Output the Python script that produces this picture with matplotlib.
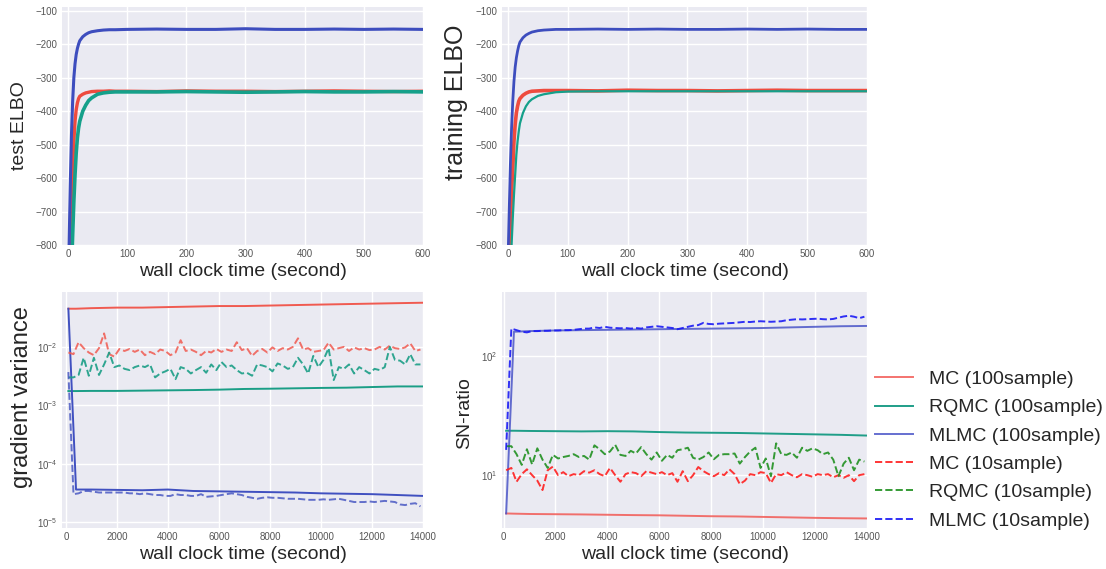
import matplotlib
matplotlib.use("Agg")
import matplotlib.pyplot as plt

# ---------------- data ----------------
# top panels: ELBO vs wall clock time (seconds)
elbo_time = [0, 2, 4, 6, 8, 10, 12, 14, 16, 18, 20, 25, 30, 35, 40, 50, 60, 70, 80,
             100, 150, 200, 250, 300, 350, 400, 450, 500, 550, 600]
test_mc = [-1150, -980, -820, -680, -570, -490, -430, -395, -375, -362, -355, -349, -345, -343, -341,
           -340, -340, -339, -340, -340, -341, -339, -340, -340, -341, -340, -339, -340, -341, -340]
test_rqmc = [-1300, -1150, -1000, -880, -770, -670, -590, -525, -480, -450, -430, -400, -382, -368, -360,
             -349, -345, -343, -342, -342, -342, -341, -342, -343, -342, -341, -342, -342, -341, -342]
test_mlmc = [-1000, -800, -620, -470, -370, -300, -258, -230, -212, -199, -189, -177, -170, -165, -162,
             -159, -157, -156, -156, -155, -154, -155, -155, -153, -155, -155, -154, -155, -154, -155]
train_mc = [-1000, -860, -740, -640, -570, -490, -440, -405, -385, -370, -362, -352, -346, -342, -340,
            -339, -338, -338, -338, -338, -339, -337, -338, -338, -339, -338, -337, -338, -338, -338]
train_rqmc = [-1150, -1000, -890, -800, -720, -650, -590, -530, -490, -460, -436, -405, -385, -372, -364,
              -354, -349, -346, -343, -341, -340, -340, -340, -340, -340, -340, -340, -340, -340, -340]
train_mlmc = [-850, -700, -560, -450, -370, -310, -268, -240, -220, -204, -193, -180, -172, -167, -163,
              -159, -157, -156, -155, -155, -154, -155, -154, -155, -155, -154, -155, -154, -155, -155]

# bottom panels: solid (100 sample) series
time_100 = [100, 400, 1000, 2000, 3000, 4000, 5000, 6000, 7000, 8000, 9000, 10000, 11000, 12000, 13000, 14000]
gv_mc100 = [0.045, 0.045, 0.046, 0.047, 0.047, 0.048, 0.049, 0.050, 0.050, 0.051, 0.052, 0.053, 0.054, 0.055, 0.056, 0.057]
gv_rqmc100 = [0.00175, 0.00175, 0.00176, 0.00176, 0.00178, 0.0018, 0.00182, 0.00185, 0.0019, 0.00192,
              0.00195, 0.00198, 0.0020, 0.00205, 0.0021, 0.0021]
gv_mlmc100 = [0.045, 3.6e-5, 3.6e-5, 3.55e-5, 3.5e-5, 3.6e-5, 3.4e-5, 3.35e-5, 3.3e-5, 3.25e-5,
              3.2e-5, 3.1e-5, 3.05e-5, 3.0e-5, 2.9e-5, 2.8e-5]
sn_mc100 = [4.77, 4.75, 4.72, 4.70, 4.68, 4.65, 4.62, 4.60, 4.56, 4.52, 4.50, 4.46, 4.42, 4.38, 4.35, 4.33]
sn_rqmc100 = [23.6, 23.6, 23.5, 23.4, 23.3, 23.4, 23.3, 23.0, 22.8, 22.7, 22.6, 22.4, 22.2, 22.0, 21.8, 21.5]
sn_mlmc100 = [4.77, 160, 162, 164, 165, 166, 167, 168, 169, 170, 171, 172, 174, 176, 178, 179]

# bottom panels: dashed (10 sample) series, every 200 s from 100 s
time_10 = list(range(100, 14000, 200))
gv_mc10 = [0.0080, 0.0075, 0.0120, 0.0095, 0.0080, 0.0072, 0.0095, 0.0170, 0.0075, 0.0068,
           0.0092, 0.0085, 0.0092, 0.0082, 0.0090, 0.0072, 0.0082, 0.0075, 0.0090, 0.0085,
           0.0072, 0.0080, 0.0130, 0.0085, 0.0090, 0.0082, 0.0072, 0.0085, 0.0080, 0.0092,
           0.0082, 0.0090, 0.0085, 0.0120, 0.0088, 0.0095, 0.0070, 0.0085, 0.0092, 0.0080,
           0.0098, 0.0085, 0.0095, 0.0090, 0.0100, 0.0140, 0.0090, 0.0095, 0.0082, 0.0085,
           0.0088, 0.0118, 0.0090, 0.0095, 0.0100, 0.0085, 0.0098, 0.0090, 0.0095, 0.0088,
           0.0090, 0.0100, 0.0090, 0.0105, 0.0095, 0.0092, 0.0098, 0.0115, 0.0085, 0.0090]
gv_rqmc10 = [0.0030, 0.0030, 0.0033, 0.0065, 0.0032, 0.0065, 0.0033, 0.0050, 0.0080, 0.0045,
             0.0048, 0.0042, 0.0040, 0.0045, 0.0048, 0.0045, 0.0050, 0.0030, 0.0035, 0.0038,
             0.0042, 0.0028, 0.0045, 0.0042, 0.0035, 0.0040, 0.0045, 0.0036, 0.0050, 0.0040,
             0.0055, 0.0045, 0.0048, 0.0040, 0.0035, 0.0036, 0.0032, 0.0050, 0.0048, 0.0045,
             0.0038, 0.0052, 0.0048, 0.0042, 0.0045, 0.0065, 0.0050, 0.0035, 0.0070, 0.0045,
             0.0060, 0.0095, 0.0027, 0.0045, 0.0042, 0.0050, 0.0035, 0.0045, 0.0040, 0.0035,
             0.0042, 0.0040, 0.0045, 0.0100, 0.0060, 0.0058, 0.0050, 0.0075, 0.0050, 0.0050]
gv_mlmc10 = [0.0037, 3.0e-5, 3.1e-5, 3.4e-5, 3.4e-5, 3.3e-5, 3.2e-5, 3.2e-5, 3.2e-5, 3.2e-5,
             3.2e-5, 3.2e-5, 3.1e-5, 3.1e-5, 3.0e-5, 3.1e-5, 3.0e-5, 2.9e-5, 2.9e-5, 2.8e-5,
             2.8e-5, 3.0e-5, 2.9e-5, 2.9e-5, 2.8e-5, 2.8e-5, 3.0e-5, 2.7e-5, 2.75e-5, 2.8e-5,
             2.9e-5, 3.0e-5, 3.1e-5, 3.0e-5, 2.9e-5, 2.7e-5, 2.6e-5, 2.5e-5, 2.6e-5, 2.65e-5,
             2.6e-5, 2.6e-5, 2.55e-5, 2.5e-5, 2.5e-5, 2.5e-5, 2.45e-5, 2.4e-5, 2.4e-5, 2.4e-5,
             2.45e-5, 2.4e-5, 2.45e-5, 2.5e-5, 2.4e-5, 2.3e-5, 2.2e-5, 2.2e-5, 2.2e-5, 2.25e-5,
             2.2e-5, 2.25e-5, 2.3e-5, 2.25e-5, 2.2e-5, 2.0e-5, 1.95e-5, 2.05e-5, 2.1e-5, 1.85e-5]
sn_mc10 = [11.0, 11.5, 8.8, 10.2, 11.2, 10.0, 9.0, 7.5, 11.0, 11.8,
           10.0, 10.6, 9.8, 10.2, 10.0, 10.8, 10.5, 11.0, 10.2, 9.8,
           11.5, 10.0, 8.8, 10.2, 10.6, 10.4, 9.8, 10.8, 10.5, 10.2,
           10.6, 10.0, 10.4, 8.8, 10.8, 8.9, 10.0, 11.7, 10.8, 10.2,
           9.8, 10.4, 10.0, 11.2, 10.2, 8.4, 9.0, 10.2, 10.0, 10.6,
           10.4, 8.6, 10.2, 10.0, 10.6, 10.0, 9.6, 10.2, 10.0, 9.7,
           10.2, 10.0, 10.2, 9.6, 10.0, 9.5, 10.0, 8.9, 10.0, 10.2]
sn_rqmc10 = [17.5, 17.5, 15.0, 12.2, 16.5, 12.3, 16.8, 13.5, 11.5, 14.8,
             13.8, 14.2, 14.5, 15.0, 14.2, 14.5, 13.5, 17.8, 16.5, 15.0,
             15.8, 18.0, 14.8, 14.5, 16.0, 15.2, 17.2, 15.0, 13.5, 15.5,
             13.2, 14.8, 14.0, 16.2, 16.5, 17.0, 14.0, 13.5, 14.2, 15.5,
             13.6, 14.8, 15.0, 15.0, 15.2, 12.5, 14.2, 15.8, 17.0, 11.5,
             13.8, 9.8, 18.5, 15.0, 14.8, 15.5, 14.0, 17.0, 16.0, 16.8,
             16.2, 15.0, 15.5, 13.5, 9.8, 12.5, 14.0, 11.0, 13.5, 13.0]
sn_mlmc10 = [16.3, 170, 165, 160, 158, 162, 162, 163, 163, 164,
             164, 165, 165, 166, 168, 170, 170, 174, 172, 176,
             173, 172, 171, 172, 170, 172, 170, 174, 176, 178,
             176, 174, 172, 168, 172, 176, 180, 182, 190, 186,
             185, 187, 188, 189, 190, 192, 194, 193, 195, 196,
             195, 194, 195, 196, 200, 202, 204, 203, 204, 205,
             206, 204, 203, 205, 210, 215, 218, 214, 208, 214]

labels = ["MC (100sample)", "RQMC (100sample)", "MLMC (100sample)",
          "MC (10sample)", "RQMC (10sample)", "MLMC (10sample)"]

# ---------------- style ----------------
plt.rcParams.update({
    "font.family": ["Liberation Sans", "DejaVu Sans"],
    "axes.facecolor": "#EAEAF2",
    "axes.edgecolor": "white",
    "axes.grid": True,
    "grid.color": "white",
    "grid.linewidth": 1.0,
    "axes.axisbelow": True,
    "xtick.labelsize": 7,
    "ytick.labelsize": 7,
    "xtick.color": "#555555",
    "ytick.color": "#555555",
    "xtick.major.size": 0,
    "ytick.major.size": 0,
    "xtick.minor.size": 0,
    "ytick.minor.size": 0,
    "text.color": "#262626",
    "axes.labelcolor": "#262626",
})

RED, TEAL, BLUE = "#EE4B3E", "#15A08A", "#3D4DBE"

W, H = 1106, 569
fig = plt.figure(figsize=(W / 100, H / 100), dpi=100)


def add_ax(l, t, r, b):
    return fig.add_axes([l / W, 1 - b / H, (r - l) / W, (b - t) / H])


ax_tl = add_ax(62, 7, 423, 245)
ax_tr = add_ax(502, 7, 867, 245)
ax_bl = add_ax(62, 292, 423, 528)
ax_br = add_ax(502, 292, 867, 528)

for ax in (ax_tl, ax_tr, ax_bl, ax_br):
    for s in ax.spines.values():
        s.set_visible(False)
    ax.tick_params(pad=3)

# top-left: test ELBO
ax_tl.plot(elbo_time, test_mc, color=RED, lw=2.4)
ax_tl.plot(elbo_time, test_rqmc, color=TEAL, lw=2.6)
ax_tl.plot(elbo_time, test_mlmc, color=BLUE, lw=2.2)
# top-right: training ELBO
ax_tr.plot(elbo_time, train_mc, color=RED, lw=2.6)
ax_tr.plot(elbo_time, train_rqmc, color=TEAL, lw=1.6)
ax_tr.plot(elbo_time, train_mlmc, color=BLUE, lw=2.0)

for ax in (ax_tl, ax_tr):
    ax.set_xlim(-10, 600)
    ax.set_ylim(-800, -88)
    ax.set_xticks([0, 100, 200, 300, 400, 500, 600])
    ax.set_yticks([-800, -700, -600, -500, -400, -300, -200, -100])

# bottom-left: gradient variance
ax_bl.plot(time_100, gv_mc100, color="#F05A50", lw=1.4)
ax_bl.plot(time_100, gv_rqmc100, color="#1A9E86", lw=1.4)
ax_bl.plot(time_100, gv_mlmc100, color="#4050C0", lw=1.4)
ax_bl.plot(time_10, gv_mc10, color="#F05A50", lw=1.4, ls="--", alpha=0.85)
ax_bl.plot(time_10, gv_rqmc10, color="#1A9E86", lw=1.4, ls="--", alpha=0.9)
ax_bl.plot(time_10, gv_mlmc10, color="#4050C0", lw=1.4, ls="--", alpha=0.8)
ax_bl.set_yscale("log")
ax_bl.set_xlim(-150, 14000)
ax_bl.set_ylim(7.9e-6, 0.087)

# bottom-right: SN ratio
l1, = ax_br.plot(time_100, sn_mc100, color="#F25A55", lw=1.4, alpha=0.85)
l2, = ax_br.plot(time_100, sn_rqmc100, color="#1F9E88", lw=1.4)
l3, = ax_br.plot(time_100, sn_mlmc100, color="#4A55C8", lw=1.4, alpha=0.85)
l4, = ax_br.plot(time_10, sn_mc10, color="#FF2020", lw=1.4, ls="--", alpha=0.9)
l5, = ax_br.plot(time_10, sn_rqmc10, color="#209020", lw=1.4, ls="--", alpha=0.9)
l6, = ax_br.plot(time_10, sn_mlmc10, color="#1A1AF5", lw=1.4, ls="--", alpha=0.9)
ax_br.set_yscale("log")
ax_br.set_xlim(-60, 14000)
ax_br.set_ylim(3.6, 345)

for ax in (ax_bl, ax_br):
    ax.set_xticks([0, 2000, 4000, 6000, 8000, 10000, 12000, 14000])
    ax.grid(False, which="minor")

# labels
xl = "wall clock time (second)"
for ax, y in ((ax_tl, -0.076), (ax_tr, -0.076), (ax_bl, -0.077), (ax_br, -0.077)):
    ax.set_xlabel(xl, fontsize=14)
    ax.xaxis.set_label_coords(0.5, y)

ax_tl.set_ylabel("test ELBO", fontsize=14)
ax_tl.yaxis.set_label_coords(-0.094, 0.5)
ax_tr.set_ylabel("training ELBO", fontsize=18)
ax_tr.yaxis.set_label_coords(-0.093, 0.6)
ax_bl.set_ylabel("gradient variance", fontsize=17)
ax_bl.yaxis.set_label_coords(-0.08, 0.555)
ax_br.set_ylabel("SN-ratio", fontsize=14)
ax_br.yaxis.set_label_coords(-0.079, 0.487)

fig.legend([l1, l2, l3, l4, l5, l6], labels, loc="center left",
           bbox_to_anchor=(857 / W, 1 - 450 / H), frameon=False, fontsize=14,
           labelspacing=0.55, handlelength=2.0, handletextpad=0.8)

fig.savefig("out.png", dpi=100)
